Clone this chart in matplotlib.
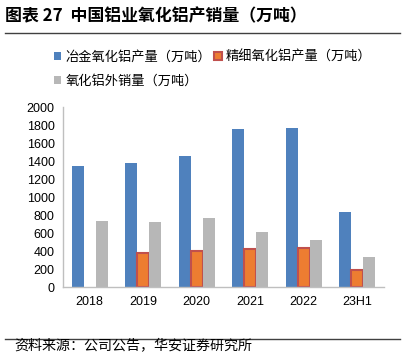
import numpy as np
import matplotlib
matplotlib.use('Agg')
import matplotlib.pyplot as plt
from matplotlib.lines import Line2D

plt.rcParams['font.family'] = ['Noto Sans CJK SC', 'DejaVu Sans']
plt.rcParams['axes.unicode_minus'] = False

# 数据
years = ['2018', '2019', '2020', '2021', '2022', '23H1']
metallurgical = [1351, 1384, 1459, 1759, 1770, 833]   # 冶金氧化铝产量
fine = [0, 384, 400, 422, 437, 192]                   # 精细氧化铝产量
sales = [737, 722, 770, 611, 525, 340]                # 氧化铝外销量

fig = plt.figure(figsize=(4.05, 3.53), dpi=100)
ax = fig.add_axes([63 / 405, 1 - 287.3 / 353, (384 - 63) / 405, 180 / 353])

x = np.arange(len(years))
w = 0.225
b1 = ax.bar(x - w, metallurgical, w, color='#4F81BD', label='冶金氧化铝产量（万吨）')
b2 = ax.bar(x[1:], fine[1:], w, color='#ED7D31', edgecolor='#C0504D', linewidth=1.5,
            label='精细氧化铝产量（万吨）')
b3 = ax.bar(x + w, sales, w, color='#B7B7B7', label='氧化铝外销量（万吨）')

ax.set_xlim(-0.5, len(years) - 0.5)
ax.set_ylim(0, 2000)
ax.set_yticks(range(0, 2001, 200))
ax.set_xticks(x)
ax.set_xticklabels(years, fontfamily='Liberation Sans')
for t in ax.get_yticklabels():
    t.set_fontfamily('Liberation Sans')
ax.tick_params(axis='both', length=0, labelsize=9, colors='#000000')
ax.tick_params(axis='x', pad=6)
ax.tick_params(axis='y', pad=6)
for s in ['top', 'right']:
    ax.spines[s].set_visible(False)
for s in ['left', 'bottom']:
    ax.spines[s].set_color('#BFBFBF')
    ax.spines[s].set_linewidth(1)

# 图例（第一行两项，第二行一项）
leg = fig.legend([b1, b3, b2],
                 ['冶金氧化铝产量（万吨）', '氧化铝外销量（万吨）', '精细氧化铝产量（万吨）'],
                 ncol=2, loc='upper left', bbox_to_anchor=(54 / 405, 1 - 51 / 353),
                 frameon=False, fontsize=9.5, handlelength=0.55, handleheight=0.55,
                 handletextpad=0.35, columnspacing=0.2, labelspacing=0.8,
                 borderaxespad=0, borderpad=0)

# 标题与横线
fig.text(5 / 405, 1 - 16 / 353, '图表 27  中国铝业氧化铝产销量（万吨）', fontsize=12.2,
         fontweight='bold', va='center', ha='left')
fig.add_artist(Line2D([5 / 405, 400 / 405], [1 - 33 / 353, 1 - 33 / 353],
                      color='#404040', linewidth=1))
fig.add_artist(Line2D([5 / 405, 400 / 405], [1 - 339 / 353, 1 - 339 / 353],
                      color='#404040', linewidth=1))
fig.text(14 / 405, 1 - 346 / 353, '资料来源：公司公告，华安证券研究所', fontsize=10.1,
         va='center', ha='left')

fig.savefig('out.png', dpi=100)
